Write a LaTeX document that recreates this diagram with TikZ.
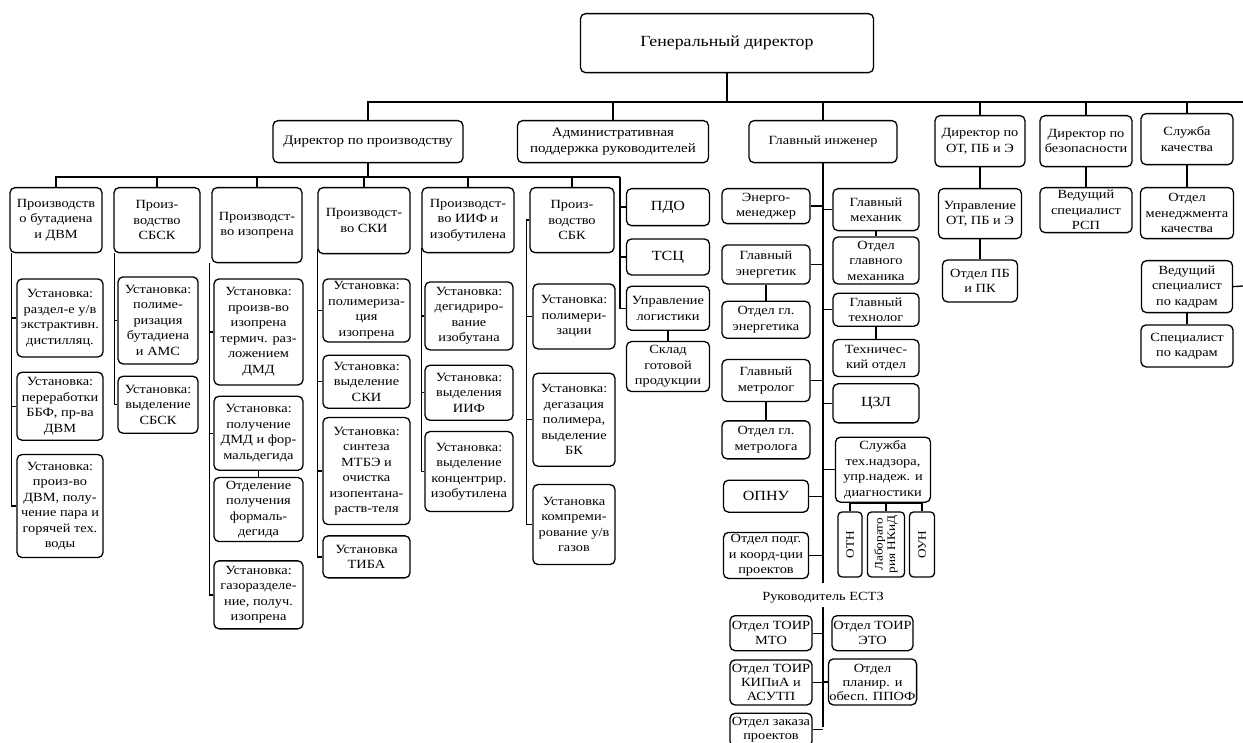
\documentclass[tikz,border=0pt]{standalone}
\usepackage{fontspec}
\setmainfont{Liberation Serif}[FakeStretch=1.15]
\usetikzlibrary{positioning}

\begin{document}
\begin{tikzpicture}[x=1pt,y=-1pt,line width=1.3pt,
	hbox/.style 2 args={draw,rounded corners=5pt,align=center,inner sep=1pt,minimum width=#1,minimum height=#2,font=\fontsize{13}{15.5}\selectfont},
	ubox/.style 2 args={draw,rounded corners=5pt,align=center,inner sep=1pt,minimum width=#1,minimum height=#2,font=\fontsize{12.5}{15.5}\selectfont},
	vbox/.style 2 args={draw,rounded corners=4pt,align=center,inner sep=1pt,rotate=90,minimum width=#2,minimum height=#1,font=\fontsize{11.5}{12.5}\selectfont},
	big/.style={font=\fontsize{14}{16}\selectfont}]
		\useasboundingbox (0,0) rectangle (1243,743);

		% top level
		\node[hbox={293pt}{59pt},anchor=north,font=\fontsize{15.5}{18}\selectfont]	(gd)	at (727,13)	{Генеральный директор};
		\node[hbox={190pt}{42pt},anchor=north]				(dp)	at (368,120)	{Директор по производству};
		\node[hbox={191pt}{42pt},anchor=north]				(ap)	at (613,120)	{Административная\\поддержка руководителей};
		\node[ubox={148pt}{42pt},anchor=north]				(ge)	at (823,120)	{Главный инженер};
		\node[ubox={90pt}{51pt},anchor=north]				(ot)	at (980,115)	{Директор по\\ОТ, ПБ и Э};
		\node[ubox={92pt}{51pt},anchor=north]				(bz)	at (1086,115)	{Директор по\\безопасности};
		\node[ubox={92pt}{51pt},anchor=north]				(sk)	at (1187,113)	{Служба\\качества};

		% productions
		\node[ubox={92pt}{65pt},anchor=north]				(c1)	at (56,187)	{Производств\\о бутадиена\\и ДВМ};
		\node[ubox={86pt}{78pt},below=25pt of c1,xshift=4pt]	(c1a)		{Установка:\\раздел-е у/в\\экстрактивн.\\дистилляц.};
		\node[ubox={86pt}{68pt},below=14pt of c1a]			(c1b)		{Установка:\\переработки\\ББФ, пр-ва\\ДВМ};
		\node[ubox={86pt}{103pt},below=13pt of c1b]			(c1c)		{Установка:\\произ-во\\ДВМ, полу-\\чение пара и\\горячей тех.\\воды};

		\node[ubox={86pt}{65pt},anchor=north]				(c2)	at (157,187)	{Произ-\\водство\\СБСК};
		\node[ubox={80pt}{87pt},below=23pt of c2,xshift=1pt]	(c2a)		{Установка:\\полиме-\\ризация\\бутадиена\\и АМС};
		\node[ubox={80pt}{57pt},below=11pt of c2a]			(c2b)		{Установка:\\выделение\\СБСК};

		\node[ubox={90pt}{75pt},anchor=north]				(c3)	at (257,187)	{Производст-\\во изопрена};
		\node[ubox={89pt}{106pt},below=15pt of c3,xshift=1.5pt]	(c3a)		{Установка:\\произв-во\\изопрена\\термич. раз-\\ложением\\ДМД};
		\node[ubox={89pt}{74pt},below=10pt of c3a]			(c3b)		{Установка:\\получение\\ДМД и фор-\\мальдегида};
		\node[ubox={89pt}{64pt},below=6pt of c3b]			(c3c)		{Отделение\\получения\\формаль-\\дегида};
		\node[ubox={89pt}{68pt},below=18pt of c3c]			(c3d)		{Установка:\\газоразделе-\\ние, получ.\\изопрена};

		\node[ubox={92pt}{66pt},anchor=north]				(c4)	at (364,187)	{Производст-\\во СКИ};
		\node[ubox={87pt}{63pt},below=24pt of c4,xshift=2.5pt]	(c4a)		{Установка:\\полимериза-\\ция\\изопрена};
		\node[ubox={87pt}{53pt},below=12pt of c4a]			(c4b)		{Установка:\\выделение\\СКИ};
		\node[ubox={87pt}{107pt},below=8pt of c4b]			(c4c)		{Установка:\\синтеза\\МТБЭ и\\очистка\\изопентана-\\раств-теля};
		\node[ubox={87pt}{42pt},below=10pt of c4c]			(c4d)		{Установка\\ТИБА};

		\node[ubox={92pt}{65pt},anchor=north]				(c5)	at (468,187)	{Производст-\\во ИИФ и\\изобутилена};
		\node[ubox={88pt}{68pt},below=28pt of c5,xshift=1pt]	(c5a)		{Установка:\\дегидриро-\\вание\\изобутана};
		\node[ubox={88pt}{55pt},below=14pt of c5a]			(c5b)		{Установка:\\выделения\\ИИФ};
		\node[ubox={88pt}{80pt},below=10pt of c5b]			(c5c)		{Установка:\\выделение\\концентрир.\\изобутилена};

		\node[ubox={84pt}{65pt},anchor=north]				(c6)	at (572,187)	{Произ-\\водство\\СБК};
		\node[ubox={82pt}{65pt},below=30pt of c6,xshift=2pt]	(c6a)		{Установка:\\полимери-\\зации};
		\node[ubox={82pt}{93pt},below=23pt of c6a]			(c6b)		{Установка:\\дегазация\\полимера,\\выделение\\БК};
		\node[ubox={82pt}{80pt},below=17pt of c6b]			(c6c)		{Установка\\компреми-\\рование у/в\\газов};

		\node[ubox={83pt}{37pt},big,anchor=north]			(pdo)	at (668,188)	{ПДО};
		\node[ubox={83pt}{36pt},big,below=12pt of pdo]		(tsc)		{ТСЦ};
		\node[ubox={83pt}{44pt},below=10pt of tsc]			(ul)		{Управление\\логистики};
		\node[ubox={83pt}{50pt},below=10pt of ul]			(sgp)		{Склад\\готовой\\продукции};

		% chief engineer
		\node[ubox={88pt}{35pt},anchor=north]				(em)	at (766,188)	{Энерго-\\менеджер};
		\node[ubox={88pt}{39pt},below=20pt of em]			(gen)		{Главный\\энергетик};
		\node[ubox={88pt}{37pt},below=16pt of gen]			(oge)		{Отдел гл.\\энергетика};
		\node[ubox={88pt}{42pt},below=20pt of oge]			(gm)		{Главный\\метролог};
		\node[ubox={88pt}{38pt},below=18pt of gm]			(ogm)		{Отдел гл.\\метролога};
		\node[ubox={85pt}{32pt},big,below=20pt of ogm]		(opnu)		{ОПНУ};
		\node[ubox={85pt}{46pt},below=19pt of opnu]			(opk)		{Отдел подг.\\и коорд-ции\\проектов};

		\node[ubox={86pt}{42pt},anchor=north]				(gmh)	at (876,188)	{Главный\\механик};
		\node[ubox={86pt}{47pt},below=5pt of gmh]			(ogmh)		{Отдел\\главного\\механика};
		\node[ubox={86pt}{33pt},below=8pt of ogmh]			(gt)		{Главный\\технолог};
		\node[ubox={86pt}{37pt},below=12pt of gt]			(tho)		{Техничес-\\кий отдел};
		\node[ubox={86pt}{39pt},big,below=6pt of tho]		(czl)		{ЦЗЛ};
		\node[ubox={95pt}{65pt},below=13pt of czl,xshift=7pt]	(stn)		{Служба\\тех.надзора,\\упр.надеж. и\\диагностики};
		\node[vbox={24pt}{65pt}]							(otn)	at (850,544.5)	{ОТН};
		\node[vbox={37pt}{65pt}]							(lab)	at (886,544.5)	{Лаборато\\рия НКиД};
		\node[vbox={25pt}{65pt}]							(oun)	at (922,544.5)	{ОУН};

		\node[font=\fontsize{12.5}{15}\selectfont]			(rk)	at (823,598)	{Руководитель ЕСТЗ};
		\node[ubox={82pt}{35pt},anchor=north]				(tm)	at (771,615)	{Отдел ТОИР\\МТО};
		\node[ubox={81pt}{35pt},anchor=north]				(te)	at (872.5,615)	{Отдел ТОИР\\ЭТО};
		\node[ubox={82pt}{45pt},below=8pt of tm,font=\fontsize{12.5}{14}\selectfont]	(tk)	{Отдел ТОИР\\КИПиА и\\АСУТП};
		\node[ubox={81pt}{46pt},below=7pt of te,font=\fontsize{12.5}{14}\selectfont]	(tp)	{Отдел\\планир. и\\обесп. ППОФ};
		\node[ubox={82pt}{33pt},below=7pt of tk,font=\fontsize{12.5}{14}\selectfont]	(tz)	{Отдел заказа\\проектов};

		% right group
		\node[ubox={83pt}{50pt},anchor=north]				(uot)	at (980,188)	{Управление\\ОТ, ПБ и Э};
		\node[ubox={75pt}{42pt},below=20pt of uot]			(opb)		{Отдел ПБ\\и ПК};
		\node[ubox={92pt}{45pt},anchor=north]				(rsp)	at (1086,187)	{Ведущий\\специалист\\РСП};
		\node[ubox={93pt}{51pt},anchor=north]				(omk)	at (1187,187)	{Отдел\\менеджмента\\качества};
		\node[ubox={91pt}{52pt},anchor=north]				(vsk)	at (1187,260)	{Ведущий\\специалист\\по кадрам};
		\node[ubox={92pt}{42pt},below=11pt of vsk]			(spk)		{Специалист\\по кадрам};

		% top bus
		\coordinate (tb) at (727,102);
		\coordinate (tg) at (962,102);
		\coordinate (tr) at (970,102);
		\coordinate (te) at (1243,102);
		\draw (gd.south) -- (tb);
		\draw (dp.north) |- (tg);
		\draw (ap.north) -- (ap.north |- tb);
		\draw (ge.north) -- (ge.north |- tb);
		\draw (tr) -- (te);
		\draw (ot.north) -- (ot.north |- te);
		\draw (bz.north) -- (bz.north |- te);
		\draw (sk.north) -- (sk.north |- te);

		% production bus
		\coordinate (pb) at (620,177);
		\draw (dp.south) -- (dp.south |- pb);
		\draw (c1.north) |- (pb);
		\draw (c2.north) -- (c2.north |- pb);
		\draw (c3.north) -- (c3.north |- pb);
		\draw (c4.north) -- (c4.north |- pb);
		\draw (c5.north) -- (c5.north |- pb);
		\draw (c6.north) -- (c6.north |- pb);
		\draw (pb) |- (pdo.west);
		\draw (pb) |- (tsc.west);
		\draw (pb) |- (ul.west);
		\draw (ul) -- (sgp);

		% column spines
		\coordinate (s1) at ([xshift=2pt]c1.south west);
		\draw (s1) |- (c1a.west);
		\draw (s1) |- (c1b.west);
		\draw (s1) |- (c1c.west);
		\coordinate (s2) at ([xshift=1pt]c2.south west);
		\draw (s2) |- (c2a.west);
		\draw (s2) |- (c2b.west);
		\coordinate (s3) at ([xshift=-2pt]c3.south west);
		\draw (s3) |- (c3a.west);
		\draw (s3) |- (c3b.west);
		\draw (s3) |- (c3d.west);
		\draw (c3b) -- (c3c);
		\coordinate (s4) at ([yshift=5pt]c4.south west);
		\draw (s4) |- (c4a.west);
		\draw (s4) |- (c4b.west);
		\draw (s4) |- (c4c.west);
		\draw (s4) |- (c4d.west);
		\coordinate (s5) at ([yshift=5pt]c5.south west);
		\draw (s5) |- (c5a.west);
		\draw (s5) |- (c5b.west);
		\draw (s5) |- (c5c.west);
		\coordinate (s6) at ([xshift=-3pt]c6.west);
		\draw (c6.west) -- (s6);
		\draw (s6) |- (c6a.west);
		\draw (s6) |- (c6b.west);
		\draw (s6) |- (c6c.west);

		% chief engineer spine
		\coordinate (gs) at (823,583);
		\draw (ge.south) -- (gs);
		\draw (em.east) -- (em.east -| gs);
		\draw (gen.east) -- (gen.east -| gs);
		\draw (gm.east) -- (gm.east -| gs);
		\draw (opnu.east) -- (opnu.east -| gs);
		\draw (opk.east) -- (opk.east -| gs);
		\draw (gmh.west) -- (gmh.west -| gs);
		\draw (gt.west) -- (gt.west -| gs);
		\draw (czl.west) -- (czl.west -| gs);
		\draw (stn.west) -- (stn.west -| gs);
		\draw (gen) -- (oge);
		\draw (gm) -- (ogm);
		\draw (gmh) -- (ogmh);
		\draw (gt) -- (tho);
		\coordinate (sb) at (883,503);
		\draw (stn.south) -- (sb);
		\draw (otn.east) |- (sb) -| (oun.east);
		\draw (lab.east) -- (lab.east |- sb);

		\coordinate (rs) at (823,727);
		\draw (rk.south) -- (rs);
		\draw (tm.east) -- (tm.east -| rs);
		\draw (tk.east) -- (tk.east -| rs);
		\draw (tz.east) -- (tz.east -| rs);
		\draw (te.west) -- (te.west -| rs);
		\draw (tp.west) -- (tp.west -| rs);

		% right group
		\coordinate (ve) at (1243,286);
		\draw (ot) -- (uot);
		\draw (uot) -- (opb);
		\draw (bz) -- (rsp);
		\draw (sk) -- (omk);
		\draw (vsk) -- (spk);
		\draw (vsk.east) -- (ve);
	\end{tikzpicture}
\end{document}
